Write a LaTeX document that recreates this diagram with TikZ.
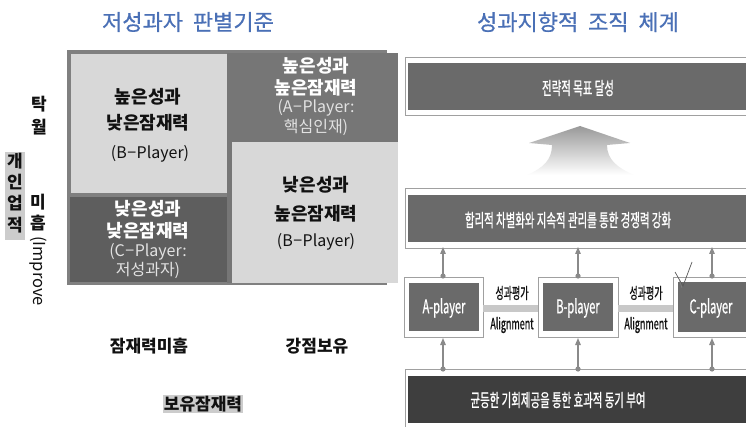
\documentclass[tikz,border=0pt]{standalone}
\usepackage{fontspec}
\setmainfont{Noto Sans CJK KR}
\newfontfamily\condfont[FakeStretch=0.58, FakeBold=0.8]{Noto Sans CJK KR}
\newfontfamily\titlefont[FakeBold=0.6]{Noto Sans CJK KR}
\usetikzlibrary{arrows.meta}
\definecolor{titleblue}{HTML}{4A70B6}
\definecolor{framegray}{HTML}{808080}
\definecolor{lightcell}{HTML}{D8D8D8}
\definecolor{darkcell}{HTML}{767676}
\definecolor{darkercell}{HTML}{5E5E5E}
\definecolor{boxdark}{HTML}{6A6A6A}
\definecolor{boxdarker}{HTML}{3E3E3E}
\definecolor{boxline}{HTML}{A0A0A0}
\definecolor{palegray}{HTML}{E2E2E2}
\definecolor{bargray}{HTML}{C8C8C8}
\definecolor{arrowgray}{HTML}{8A8A8A}
\definecolor{labelbg}{HTML}{CCCCCC}
\definecolor{inktext}{HTML}{111111}
\begin{document}
\begin{tikzpicture}[x=1pt,y=-1pt,
  txt/.style={inner sep=0pt, anchor=center},
  cellbold/.style={txt, font=\fontsize{18}{20}\selectfont\bfseries},
  cellreg/.style={txt, font=\fontsize{16}{18}\selectfont},
  axislbl/.style={txt, font=\fontsize{17}{19}\selectfont\bfseries, text=inktext},
  titlelbl/.style={txt, font=\titlefont\fontsize{22}{24}\selectfont, text=titleblue},
  cellbox/.style={draw=none, inner sep=0pt, outer sep=0pt, anchor=north west},
  framebox/.style={draw=boxline, line width=0.9pt, fill=white, inner sep=0pt, outer sep=0pt, anchor=north west},
  innerbox/.style={draw=none, inner sep=0pt, outer sep=0pt, anchor=north west},
  boxtext/.style={txt, font=\condfont\fontsize{18}{20}\selectfont, text=white},
  playertext/.style={txt, font=\condfont\fontsize{19}{21}\selectfont, text=white},
  smalltext/.style={txt, font=\condfont\fontsize{15.5}{17}\selectfont, text=inktext},
  arr/.style={draw=arrowgray, line width=1.3pt, -{Triangle[length=7pt,width=5.5pt]}},
  dot/.style={fill=arrowgray},
  bar/.style={draw=bargray, line width=7pt}
]
\useasboundingbox (0,0) rectangle (746,427);
\fill[white] (0,0) rectangle (746,427);

% ---------- titles ----------
\node[titlelbl] (lefttitle) at (188,22) {저성과자 \ 판별기준};
\node[titlelbl] (righttitle) at (578,22) {성과지향적 \ 조직 \ 체계};

% ---------- left grid ----------
\fill[framegray] (67,50) rectangle (387,285);
\node[cellbox, fill=lightcell, minimum width=156pt, minimum height=139pt] (tl) at (71,54) {};
\node[cellbox, fill=darkcell, minimum width=171pt, minimum height=89pt] (tr) at (227,53) {};
\node[cellbox, fill=lightcell, minimum width=166pt, minimum height=141pt] (br) at (232,142) {};
\node[cellbox, fill=darkcell, minimum width=5pt, minimum height=141pt] (brgap) at (227,142) {};
\node[cellbox, fill=darkercell, minimum width=157pt, minimum height=85pt] (bl) at (70,197) {};

% top-left cell
\node[cellbold, text=inktext] (tl1) at (148,97) {높은성과};
\node[cellbold, text=inktext] (tl2) at (148,123) {낮은잠재력};
\node[cellreg, text=inktext] (tl3) at (150,154) {(B{\kern0.5pt}−{\kern0.5pt}Player)};
% top-right cell
\node[cellbold, text=white] (tr1) at (316,66) {높은성과};
\node[cellbold, text=white] (tr2) at (316,88) {높은잠재력};
\node[cellreg, text=palegray] (tr3) at (316,108) {(A{\kern0.5pt}−{\kern0.5pt}Player:};
\node[cellreg, text=palegray] (tr4) at (316,127) {핵심인재)};
% bottom-right cell
\node[cellbold, text=inktext] (br1) at (316,185) {낮은성과};
\node[cellbold, text=inktext] (br2) at (316,214) {높은잠재력};
\node[cellreg, text=inktext] (br3) at (316,242) {(B{\kern0.5pt}−{\kern0.5pt}Player)};
% bottom-left cell
\node[cellbold, text=white] (bl1) at (148,209) {낮은성과};
\node[cellbold, text=white] (bl2) at (148,231) {낮은잠재력};
\node[cellreg, text=palegray] (bl3) at (148,252) {(C{\kern0.5pt}−{\kern0.5pt}Player:};
\node[cellreg, text=palegray] (bl4) at (148,270) {저성과자)};

% axis labels
\node[axislbl] (ya1) at (39,104) {탁};
\node[axislbl] (ya2) at (39,127) {월};
\node[axislbl] (yb1) at (38,202) {미};
\node[axislbl] (yb2) at (38,223) {흡};
\node[txt, font=\fontsize{16.5}{18}\selectfont, text=inktext, rotate=-90] (yb3) at (38,271) {(Improve};
\fill[labelbg] (5,152) rectangle (25,240);
\node[axislbl] (yc1) at (15,161) {개};
\node[axislbl] (yc2) at (15,182) {인};
\node[axislbl] (yc3) at (15,203) {업};
\node[axislbl] (yc4) at (15,225) {적};

\node[axislbl] (xa) at (149,346) {잠재력미흡};
\node[axislbl] (xb) at (317,346) {강점보유};
\node[axislbl, fill=labelbg, inner sep=1pt] (xc) at (203,404) {보유잠재력};

% ---------- right diagram ----------
\begin{scope}
\clip (398,0) rectangle (746,427);
% goal box
\node[framebox, minimum width=360pt, minimum height=58pt] (goalF) at (405,57) {};
\node[innerbox, fill=boxdark, minimum width=360pt, minimum height=47pt] (goalI) at (408,63) {};
\node[boxtext] (goal) at (578,88) {전략적 목표 달성};

% big up arrow
\shade[top color=black!40, middle color=black!14, bottom color=white]
  (580,126) -- (630,143) -- (607,145)
  .. controls (607,160) and (618,168) .. (634,175)
  -- (527,175)
  .. controls (543,168) and (552,160) .. (552,145)
  -- (529,143) -- cycle;

% middle box
\node[framebox, minimum width=360pt, minimum height=60pt] (midF) at (405,188) {};
\node[innerbox, fill=boxdark, minimum width=360pt, minimum height=47pt] (midI) at (408,195) {};
\node[boxtext] (mid) at (568,220) {합리적 차별화와 지속적 관리를 통한 경쟁력 강화};

% players
\node[framebox, minimum width=79pt, minimum height=60pt] (pA) at (404,277) {};
\node[innerbox, fill=boxdark, minimum width=70pt, minimum height=48pt] (pAi) at (409,283) {};
\node[playertext] (pAt) at (444,308) {A-player};

\node[framebox, minimum width=80pt, minimum height=60pt] (pB) at (538,277) {};
\node[innerbox, fill=boxdark, minimum width=70pt, minimum height=48pt] (pBi) at (543,283) {};
\node[playertext] (pBt) at (578,308) {B-player};

\node[framebox, minimum width=90pt, minimum height=60pt] (pC) at (673,277) {};
\node[innerbox, fill=boxdark, minimum width=90pt, minimum height=50pt] (pCi) at (678,282) {};
\node[playertext] (pCt) at (711,308) {C-player};

% alignment bars
\draw[bar] (pA.east |- 0,308) -- (pB.west |- 0,308);
\draw[bar] (pB.east |- 0,308) -- (pC.west |- 0,308);
\node[smalltext] (e1) at (512,293) {성과평가};
\node[smalltext] (e2) at (512,325) {Alignment};
\node[smalltext] (e3) at (646,293) {성과평가};
\node[smalltext] (e4) at (646,325) {Alignment};

% bottom box
\node[framebox, minimum width=360pt, minimum height=65pt] (botF) at (405,369) {};
\node[innerbox, fill=boxdarker, minimum width=360pt, minimum height=47pt] (botI) at (408,376) {};
\node[boxtext] (bot) at (558,400) {균등한 기회제공을 통한 효과적 동기 부여};

% vertical arrows with dots
\foreach \nm/\xx/\pl in {a/443/pA, b/578/pB, c/712/pC}{
  \coordinate (u\nm) at (\xx,276);
  \coordinate (l\nm) at (\xx,369);
  \draw[arr] (u\nm) -- ([yshift=1pt]midF.south -| u\nm);
  \draw[arr] (l\nm) -- ([yshift=-1pt]\pl.south -| l\nm);
  \fill[dot] (u\nm) circle (2.6pt);
  \fill[dot] (l\nm) circle (2.6pt);
}

% small check scribble
\draw[black!65, line width=0.7pt] (675,272) -- (683,286) -- (692,262);
\draw[black!50, line width=0.5pt] (679,279) -- (682,288);
\end{scope}
\end{tikzpicture}
\end{document}
